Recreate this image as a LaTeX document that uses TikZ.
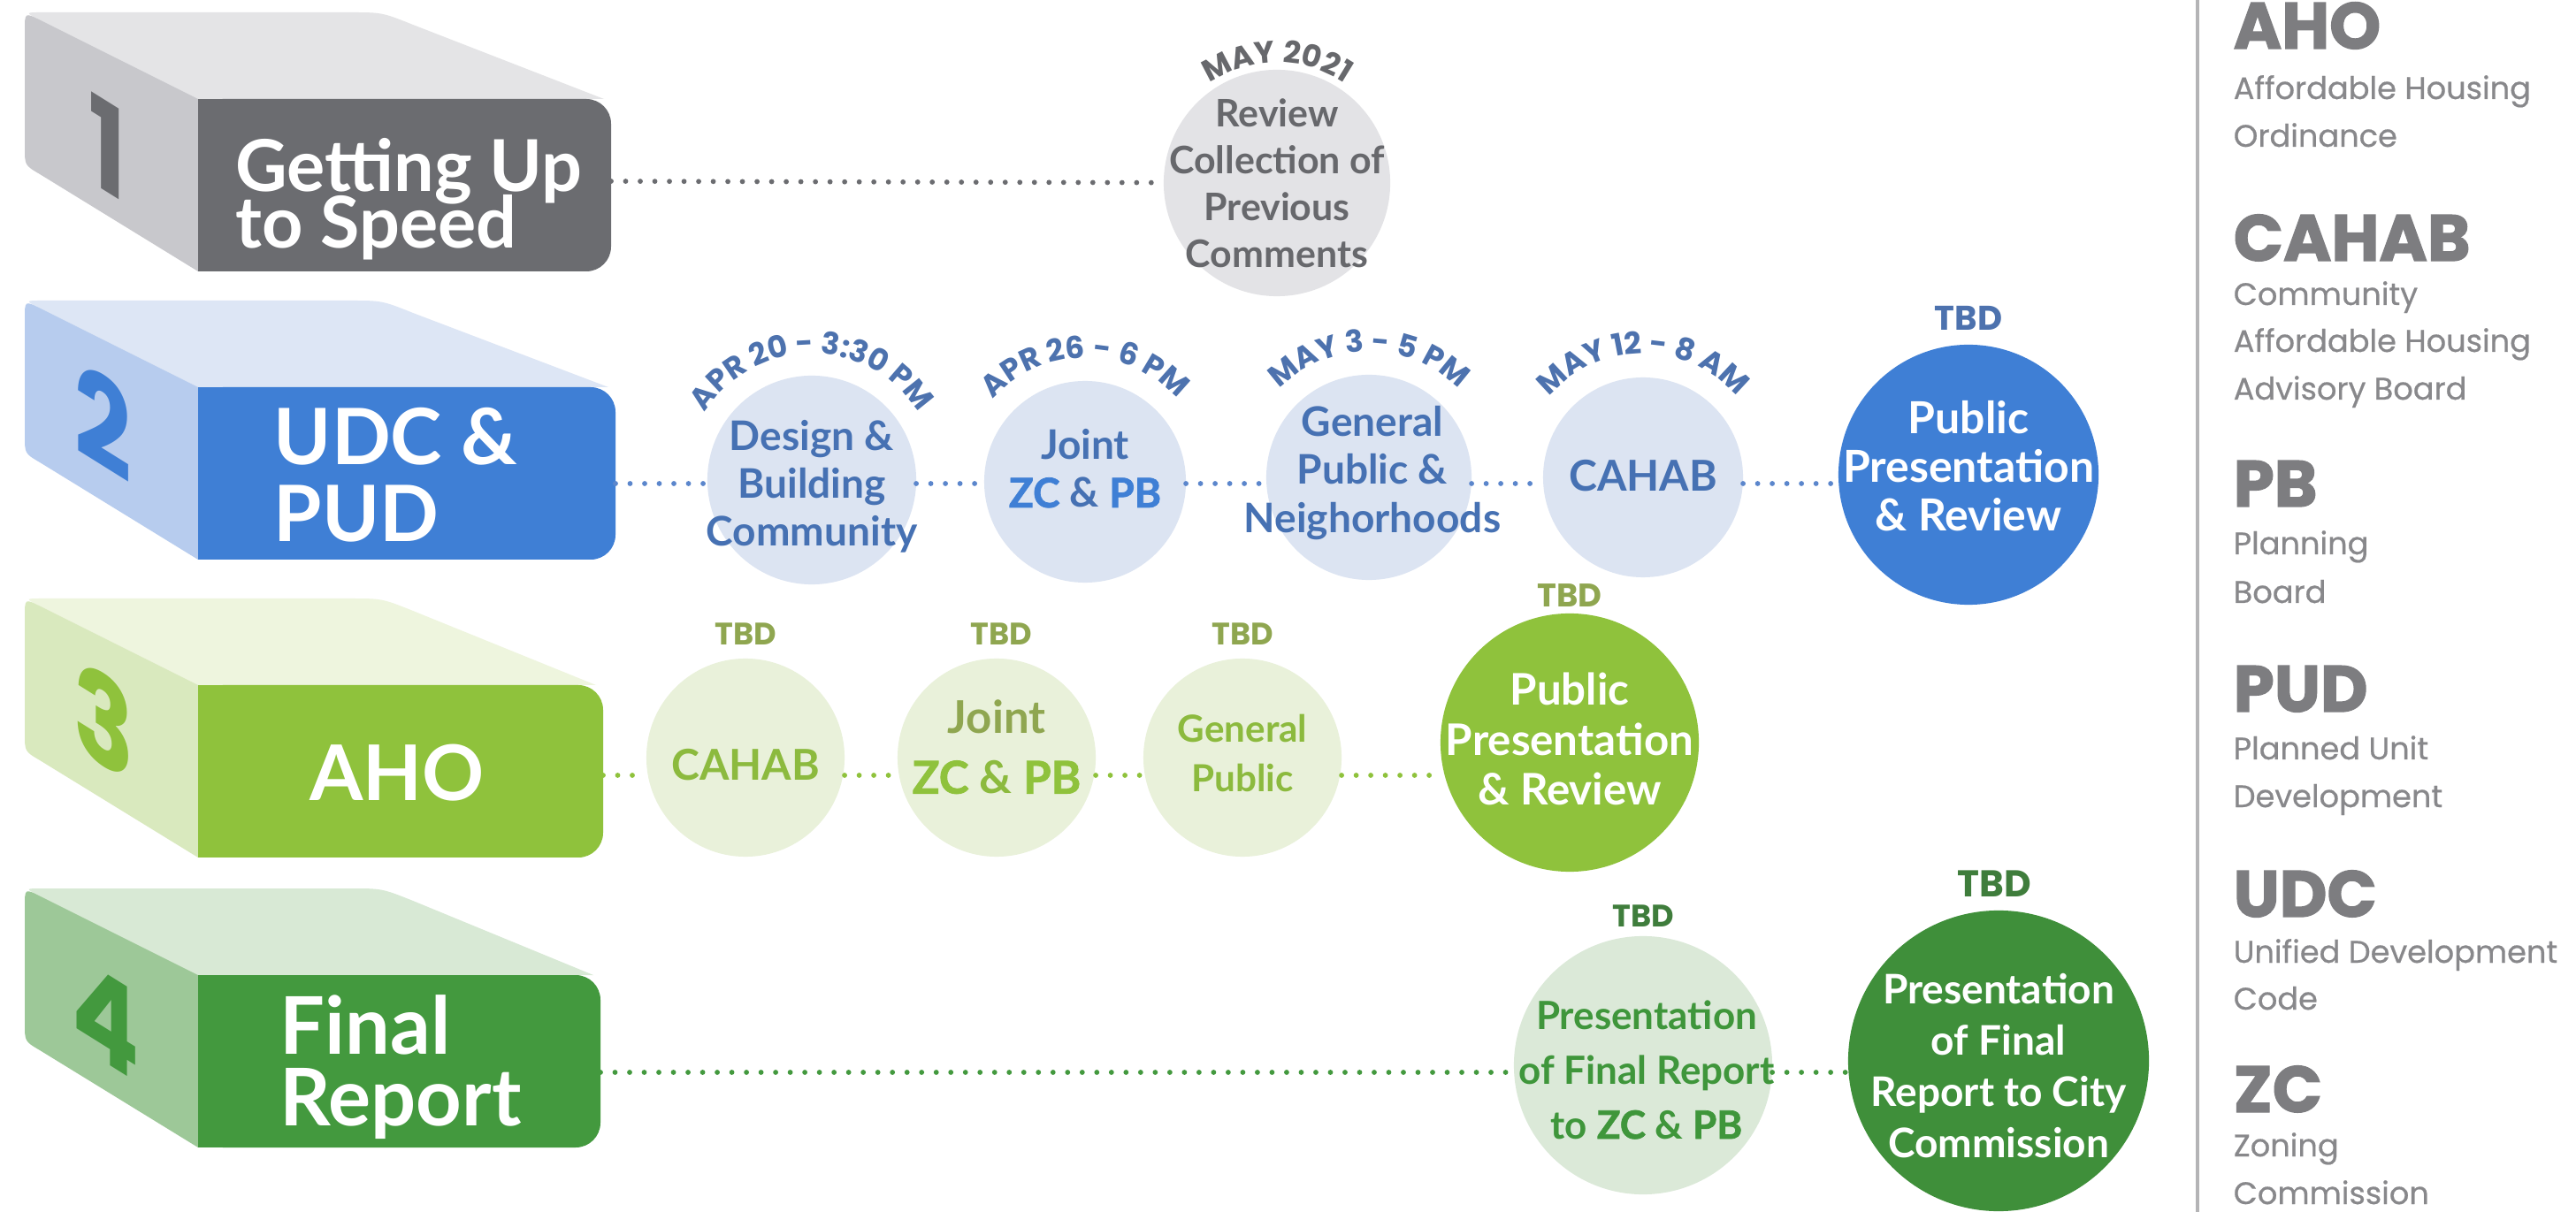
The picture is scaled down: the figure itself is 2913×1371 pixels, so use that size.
\documentclass[tikz,border=0pt]{standalone}
\usepackage{fontspec}
\setmainfont{Lato}
\newfontfamily\popfont{Poppins}
\newfontfamily\heavyfont[FakeBold=1.6]{Lato}
\newfontfamily\leghfont[FakeBold=1.8]{Poppins}
\newfontfamily\legsubfont[FakeBold=0.5]{Poppins}
\usetikzlibrary{decorations.text}

% lines may sit closer than their glyphs would normally allow
\newcommand{\tightlines}{\lineskiplimit=-100pt\relax}

% palette
\definecolor{greyFront}{HTML}{6B6C70}
\definecolor{greyTop}{HTML}{E4E4E6}
\definecolor{greySide}{HTML}{C8C8CC}
\definecolor{greyCirc}{HTML}{E3E3E6}
\definecolor{greyText}{HTML}{67686C}
\definecolor{blueFront}{HTML}{3F7FD5}
\definecolor{blueTop}{HTML}{DDE6F5}
\definecolor{blueSide}{HTML}{B7CCEE}
\definecolor{blueCirc}{HTML}{DCE4F2}
\definecolor{blueText}{HTML}{4671B3}
\definecolor{blueDate}{HTML}{4D72AE}
\definecolor{blueDot}{HTML}{5B86CC}
\definecolor{limeFront}{HTML}{8FC23C}
\definecolor{limeTop}{HTML}{EEF5DE}
\definecolor{limeSide}{HTML}{D9E9BE}
\definecolor{limeCirc}{HTML}{E9F1DA}
\definecolor{limeText}{HTML}{8CBA3E}
\definecolor{limeDate}{HTML}{8FA650}
\definecolor{greenFront}{HTML}{43993E}
\definecolor{greenTop}{HTML}{D8E9D5}
\definecolor{greenSide}{HTML}{9DC898}
\definecolor{greenCirc}{HTML}{DBE9D8}
\definecolor{greenText}{HTML}{3F963B}
\definecolor{greenDark}{HTML}{3F8F3A}
\definecolor{greenDate}{HTML}{3F7D3C}
\definecolor{legHead}{HTML}{7D7D80}
\definecolor{legSub}{HTML}{88888B}
\definecolor{legRule}{HTML}{B4B4B6}

% extruded stage block: #1 front top y, #2 front right x, #3 front, #4 top, #5 side
\newcommand{\stageblock}[5]{%
  \begin{scope}[shift={(0,#1)}]
    \fill[#4] (46,-89) .. controls (28,-98) .. (48,-98) -- (395,-98)
      .. controls (432,-98) .. (467,-84) -- (#2-8,0) -- (224,0) -- cycle;
    \fill[#5] (28,-78) .. controls (28,-98) .. (46,-89) -- (224,0) -- (224,195)
      -- (45,85) .. controls (28,75) .. (28,55) -- cycle;
    \fill[#3, rounded corners=0.28cm] (224,0) rectangle (#2,195);
    \fill[#3] (224,0) rectangle (280,195);
  \end{scope}}

% date set on an arc over a circle: #1 node, #2 radius, #3 colour, #4 text
\newcommand{\datearc}[4]{%
  \path[decorate, decoration={text along path, text align=center,
      text={|\popfont\bfseries\fontsize{9.8pt}{9.8pt}\selectfont\color{#3}|#4}}]
    ([shift={(180:#2)}]#1.center) arc[start angle=180, end angle=0, radius=#2];}

\begin{document}
\begin{tikzpicture}[x=0.01cm, y=-0.01cm,
  circ/.style={circle, inner sep=0pt, outer sep=0pt, draw=none},
  ctxt/.style={align=center, inner sep=0pt},
  blk/.style={text=white, inner sep=0pt},
  dig/.style={inner sep=0pt, xscale=0.8, yslant=-0.5,
    font=\popfont\bfseries\fontsize{40pt}{40pt}\selectfont},
  dotrule/.style={line width=0.058cm, line cap=round, dash pattern=on 0pt off 0.165cm},
  tbd/.style={inner sep=0pt, font=\popfont\bfseries\fontsize{10pt}{10pt}\selectfont},
  leghead/.style={anchor=base west, inner sep=0pt, text=legHead,
    font=\leghfont\bfseries\fontsize{21pt}{21pt}\selectfont},
  legsub/.style={anchor=base west, inner sep=0pt, text=legSub,
    font=\legsubfont\fontsize{10pt}{10pt}\selectfont},
]
\useasboundingbox (0,0) rectangle (2913,1371);
\fill[white] (0,0) rectangle (2913,1371);

% ---------- stage blocks ----------
\stageblock{112}{691}{greyFront}{greyTop}{greySide}
\stageblock{438}{696}{blueFront}{blueTop}{blueSide}
\stageblock{775}{682}{limeFront}{limeTop}{limeSide}
\stageblock{1103}{679}{greenFront}{greenTop}{greenSide}

\node[dig, text=greyFront] (n1) at (122,166) {1};
\node[dig, text=blueFront] (n2) at (117,476) {2};
\node[dig, text=limeFront] (n3) at (118,815) {3};
\node[dig, text=greenFront] (n4) at (120,1152) {4};

\node[blk, anchor=west, align=left,
  font=\bfseries\fontsize{23pt}{18.2pt}\selectfont\tightlines]
  (lab1) at (266,225) {Getting Up\\to Speed};
\node[blk, anchor=west, align=left,
  font=\bfseries\fontsize{25pt}{24.8pt}\selectfont\tightlines]
  (lab2) at (309,537) {UDC \&\\PUD};
\node[blk, font=\bfseries\fontsize{24.7pt}{24.7pt}\selectfont]
  (lab3) at (449,874) {AHO};
\node[blk, anchor=west, align=left,
  font=\bfseries\fontsize{25.6pt}{22.8pt}\selectfont\tightlines]
  (lab4) at (316,1207) {Final\\Report};

% connector starts on the blocks
\coordinate (e1) at (691,205);
\coordinate (e2) at (696,547);
\coordinate (e3) at (682,877);
\coordinate (e4) at (679,1213);

% ---------- stage 1 ----------
\node[circ, fill=greyCirc, minimum size=2.56cm] (s1a) at (1444,207) {};
\node[ctxt, text=greyText, font=\bfseries\fontsize{12.2pt}{15.1pt}\selectfont\tightlines]
  (s1at) at (1444,207) {Review\\Collection of\\Previous\\Comments};
\datearc{s1a}{1.36cm}{greyText}{MAY 2021}
\draw[dotrule, greyFront] (e1) -- (s1a);

% ---------- stage 2 ----------
\node[circ, fill=blueCirc, minimum size=2.36cm] (s2a) at (918,543) {};
\node[circ, fill=blueCirc, minimum size=2.28cm] (s2b) at (1227,545) {};
\node[circ, fill=blueCirc, minimum size=2.32cm] (s2c) at (1548,540) {};
\node[circ, fill=blueCirc, minimum size=2.26cm] (s2d) at (1858,540) {};
\node[circ, fill=blueFront, minimum size=2.94cm] (s2e) at (2226,537) {};

\node[ctxt, text=blueText, font=\bfseries\fontsize{13.1pt}{15.4pt}\selectfont\tightlines]
  (s2at) at (918,550) {Design \&\\Building\\Community};
\node[ctxt, text=blueText, font=\bfseries\fontsize{13.1pt}{15.4pt}\selectfont\tightlines]
  (s2bt) at (1227,530)
  {Joint\\{\heavyfont\bfseries\color{blueFront}ZC} \& {\heavyfont\bfseries\color{blueFront}PB}};
\node[ctxt, text=blueText, font=\bfseries\fontsize{13.1pt}{15.4pt}\selectfont\tightlines]
  (s2ct) at (1552,535) {General\\Public \&\\Neighorhoods};
\node[ctxt, text=blueText, font=\bfseries\fontsize{13.7pt}{13.7pt}\selectfont]
  (s2dt) at (1858,538) {CAHAB};
\node[ctxt, text=white, font=\bfseries\fontsize{14.2pt}{15.6pt}\selectfont\tightlines]
  (s2et) at (2226,527) {Public\\Presentation\\\& Review};

\datearc{s2a}{1.43cm}{blueDate}{APR 20 - 3:30 PM}
\datearc{s2b}{1.40cm}{blueDate}{APR 26 - 6 PM}
\datearc{s2c}{1.42cm}{blueDate}{MAY 3 - 5 PM}
\datearc{s2d}{1.40cm}{blueDate}{MAY 12 - 8 AM}
\node[tbd, text=blueDate, font=\popfont\bfseries\fontsize{11pt}{11pt}\selectfont] (d2e) at (2226,360) {TBD};

\draw[dotrule, blueDot] (e2) -- (e2 -| s2a.west);
\draw[dotrule, blueDot] (s2a.east |- e2) -- (e2 -| s2b.west);
\draw[dotrule, blueDot] (s2b.east |- e2) -- (e2 -| s2c.west);
\draw[dotrule, blueDot] (s2c.east |- e2) -- (e2 -| s2d.west);
\draw[dotrule, blueDot] (s2d.east |- e2) -- (e2 -| s2e.west);

% ---------- stage 3 ----------
\node[circ, fill=limeCirc, minimum size=2.24cm] (s3a) at (843,857) {};
\node[circ, fill=limeCirc, minimum size=2.24cm] (s3b) at (1127,857) {};
\node[circ, fill=limeCirc, minimum size=2.24cm] (s3c) at (1405,857) {};
\node[circ, fill=limeFront, minimum size=2.92cm] (s3d) at (1775,840) {};

\node[ctxt, text=limeText, font=\bfseries\fontsize{13.7pt}{13.7pt}\selectfont] (s3at) at (843,865) {CAHAB};
\node[ctxt, text=limeDate, font=\bfseries\fontsize{14.5pt}{19.3pt}\selectfont\tightlines]
  (s3bt) at (1127,845)
  {Joint\\{\heavyfont\bfseries\color{limeFront}ZC} {\color{limeText}\&} {\heavyfont\bfseries\color{limeFront}PB}};
\node[ctxt, text=limeText, font=\bfseries\fontsize{12pt}{16pt}\selectfont\tightlines]
  (s3ct) at (1405,852) {General\\Public};
\node[ctxt, text=white, font=\bfseries\fontsize{14pt}{16pt}\selectfont\tightlines]
  (s3dt) at (1775,836) {Public\\Presentation\\\& Review};

\node[tbd, text=limeDate] (d3a) at (843,717) {TBD};
\node[tbd, text=limeDate] (d3b) at (1132,717) {TBD};
\node[tbd, text=limeDate] (d3c) at (1405,717) {TBD};
\node[tbd, text=limeDate, font=\popfont\bfseries\fontsize{10.5pt}{10.5pt}\selectfont] (d3d) at (1775,674) {TBD};

\draw[dotrule, limeFront] (e3) -- (e3 -| s3a.west);
\draw[dotrule, limeFront] (s3a.east |- e3) -- (e3 -| s3b.west);
\draw[dotrule, limeFront] (s3b.east |- e3) -- (e3 -| s3c.west);
\draw[dotrule, limeFront] (s3c.east |- e3) -- (e3 -| s3d.west);

% ---------- stage 4 ----------
\node[circ, fill=greenCirc, minimum size=2.92cm] (s4a) at (1858,1205) {};
\node[circ, fill=greenDark, minimum size=3.40cm] (s4b) at (2260,1200) {};

\node[ctxt, text=greenText, font=\bfseries\fontsize{12.5pt}{17.6pt}\selectfont\tightlines]
  (s4at) at (1862,1210)
  {Presentation\\of Final Report\\to {\heavyfont\bfseries ZC} \& {\heavyfont\bfseries PB}};
\node[ctxt, text=white, font=\bfseries\fontsize{13.1pt}{16.5pt}\selectfont\tightlines]
  (s4bt) at (2260,1206) {Presentation\\of Final\\Report to City\\Commission};

\node[tbd, text=greenDate] (d4a) at (1858,1036) {TBD};
\node[tbd, text=greenDate, font=\popfont\bfseries\fontsize{12pt}{12pt}\selectfont] (d4b) at (2255,1000) {TBD};

\draw[dotrule, greenFront] (e4) -- (e4 -| s4a.west);
\draw[dotrule, greenFront] (s4a.east |- e4) -- (e4 -| s4b.west);

% ---------- glossary ----------
\coordinate (ruleTop) at (2485,0);
\coordinate (ruleBot) at (2485,1371);
\draw[legRule, line width=0.04cm] (ruleTop) -- (ruleBot);

\node[leghead] (gAHO) at (2525,55) {AHO};
\node[legsub] (gAHO1) at (2525,112) {Affordable Housing};
\node[legsub] (gAHO2) at (2525,166) {Ordinance};

\node[leghead] (gCAHAB) at (2525,295) {CAHAB};
\node[legsub] (gCAHAB1) at (2525,345) {Community};
\node[legsub] (gCAHAB2) at (2525,398) {Affordable Housing};
\node[legsub] (gCAHAB3) at (2525,452) {Advisory Board};

\node[leghead] (gPB) at (2525,573) {PB};
\node[legsub] (gPB1) at (2525,627) {Planning};
\node[legsub] (gPB2) at (2525,682) {Board};

\node[leghead] (gPUD) at (2525,805) {PUD};
\node[legsub] (gPUD1) at (2525,859) {Planned Unit};
\node[legsub] (gPUD2) at (2525,913) {Development};

\node[leghead] (gUDC) at (2525,1037) {UDC};
\node[legsub] (gUDC1) at (2525,1089) {Unified Development};
\node[legsub] (gUDC2) at (2525,1142) {Code};

\node[leghead] (gZC) at (2525,1258) {ZC};
\node[legsub] (gZC1) at (2525,1308) {Zoning};
\node[legsub] (gZC2) at (2525,1362) {Commission};
\end{tikzpicture}
\end{document}
